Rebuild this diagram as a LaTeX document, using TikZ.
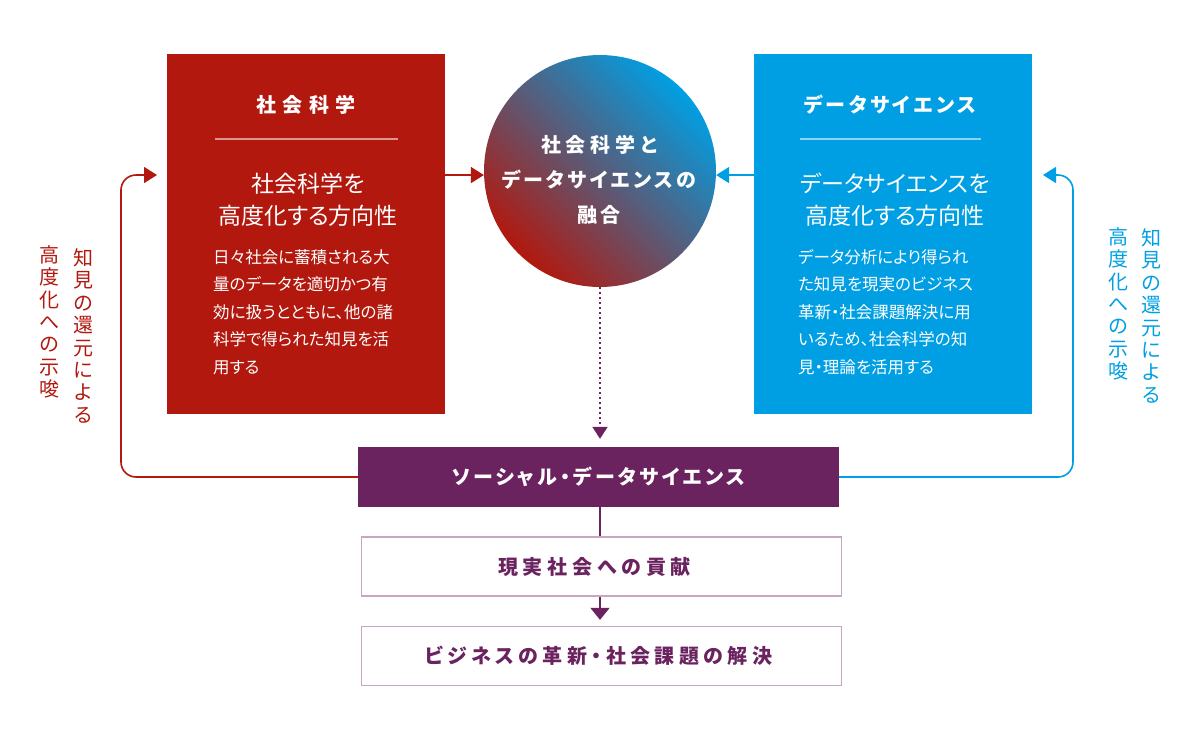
\documentclass[tikz,border=0pt]{standalone}
\usepackage{fontspec}
\setmainfont{Noto Sans CJK JP}[RawFeature=+palt]
\newfontfamily\jpA{Noto Sans CJK JP}[RawFeature=+palt, LetterSpace=32]
\newfontfamily\jpB{Noto Sans CJK JP}[RawFeature=+palt, LetterSpace=16]
\newfontfamily\jpC{Noto Sans CJK JP}[RawFeature=+palt, LetterSpace=24]
\newfontfamily\jpD{Noto Sans CJK JP}[RawFeature=+palt, LetterSpace=22]
\newfontfamily\jpvert{Noto Sans CJK JP}
\usetikzlibrary{arrows.meta,shadings}
\definecolor{redc}{HTML}{B2180E}
\definecolor{bluec}{HTML}{009FE3}
\definecolor{purplec}{HTML}{6B2360}
\definecolor{borderc}{HTML}{C7A6C4}
\tikzset{
  panel/.style={draw=none, inner sep=0pt, minimum width=278pt, minimum height=360pt, anchor=north west},
  headtxt/.style={text=white, inner sep=0pt},
  circtxt/.style={text=white, inner sep=0pt, align=center, font=\bfseries\fontsize{20}{35}\selectfont},
  subtxt/.style={text=white, inner sep=0pt, align=center, font=\fontsize{23}{32}\selectfont},
  bodytxt/.style={text=white, align=left, font=\fontsize{16.5}{27.5}\selectfont, anchor=north west, inner sep=0pt},
  rulerline/.style={draw=white, draw opacity=0.55, line width=1.5pt},
  vtxt/.style={align=center, font=\jpvert\fontsize{20}{22.4}\selectfont, inner sep=0pt},
  conn/.style={line width=1.6pt},
  tipsmall/.style={-{Triangle[length=13pt,width=16pt]}},
  outbox/.style={draw=borderc, line width=1.3pt, fill=white, minimum width=480pt, minimum height=59pt, inner sep=0pt, text=purplec},
}
\begin{document}
\begin{tikzpicture}[x=1pt,y=-1pt]
\useasboundingbox (0,0) rectangle (1200,740);
% panels
\node[panel, fill=redc] (social) at (167,54) {};
\node[panel, fill=bluec] (datasci) at (754,54) {};
% circle
\node[circle, minimum size=232pt, inner sep=0pt, shading=axis, top color=bluec, bottom color=redc, shading angle=-45] (fusion) at (600,171) {};
\node[circtxt] (fusiontxt) at (599,180) {{\jpC 社会科学と}\\{\jpB データサイエンスの}\\{\jpB 融合}};
% left panel texts
\node[headtxt, font=\jpA\bfseries\fontsize{20}{24}\selectfont] (socialtitle) at (306,105) {社会科学};
\draw[rulerline] (215,139) -- (398,139);
\node[subtxt] (socialsub) at (308,200) {社会科学を\\高度化する方向性};
\node[bodytxt] (socialbody) at (213,249) {日々社会に蓄積される大\\量のデータを適切かつ有\\効に扱うとともに、他の諸\\科学で得られた知見を活\\用する};
% right panel texts
\node[headtxt, font=\jpB\bfseries\fontsize{20}{24}\selectfont] (datatitle) at (890,105) {データサイエンス};
\draw[rulerline] (800,139) -- (981,139);
\node[subtxt] (datasub) at (895,200) {データサイエンスを\\高度化する方向性};
\node[bodytxt] (databody) at (798,249) {データ分析により得られ\\た知見を現実のビジネス\\革新・社会課題解決に用\\いるため、社会科学の知\\見・理論を活用する};
% bottom boxes
\node[fill=purplec, minimum width=481pt, minimum height=60pt, inner sep=0pt, text=white, font=\jpB\bfseries\fontsize{20}{24}\selectfont] (sds) at (598.5,477) {ソーシャル・データサイエンス};
\node[outbox, font=\jpC\bfseries\fontsize{20}{24}\selectfont] (contrib) at (601.5,566.5) {\kern-14pt 現実社会への貢献};
\node[outbox, font=\jpD\bfseries\fontsize{20}{24}\selectfont] (solve) at (601.5,656) {\kern-6pt ビジネスの革新・社会課題の解決};
% side vertical texts
\node[vtxt, text=redc] (lv1) at (83,336) {知\\見\\の\\還\\元\\に\\よ\\る};
\node[vtxt, text=redc] (lv2) at (49,322) {高\\度\\化\\へ\\の\\示\\唆};
\node[vtxt, text=bluec] (rv1) at (1151,316) {知\\見\\の\\還\\元\\に\\よ\\る};
\node[vtxt, text=bluec] (rv2) at (1118,304) {高\\度\\化\\へ\\の\\示\\唆};
% connectors
\draw[conn, redc, tipsmall] (social.east |- fusion.182) -- (fusion.182);
\draw[conn, bluec, tipsmall] (datasci.west |- fusion.358) -- (fusion.358);
\draw[purplec, line width=2pt, dash pattern=on 2pt off 3pt, -{Triangle[length=12pt,width=15pt]}, shorten >=8pt] (fusion.south) -- (fusion.south |- sds.north);
\draw[conn, purplec] (fusion.south |- sds.south) -- (fusion.south |- contrib.north);
\draw[conn, purplec, -{Triangle[length=12pt,width=19pt]}, shorten >=6pt] (fusion.south |- contrib.south) -- (fusion.south |- solve.north);
\coordinate (lcorner) at (121,175);
\coordinate (ltip) at (157,175);
\coordinate (rcorner) at (1073,175);
\coordinate (rtip) at (1043,175);
\draw[conn, redc, rounded corners=15pt, tipsmall] (sds.west) -| (lcorner) -- (ltip);
\draw[conn, bluec, rounded corners=15pt, tipsmall] (sds.east) -| (rcorner) -- (rtip);
\end{tikzpicture}
\end{document}
